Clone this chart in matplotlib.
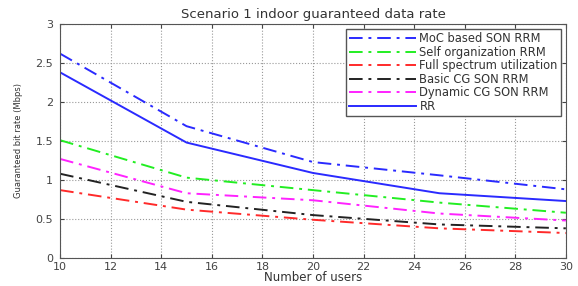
import numpy as np
import matplotlib
matplotlib.use("Agg")
import matplotlib.pyplot as plt

plt.rcParams['font.family'] = ['DejaVu Sans']

# number of users
users = [10, 15, 20, 25, 30]

# guaranteed bit rate (Mbps) per scheme
moc_son = [2.62, 1.69, 1.23, 1.06, 0.88]
self_org = [1.51, 1.03, 0.87, 0.71, 0.58]
full_spec = [0.87, 0.62, 0.49, 0.38, 0.32]
basic_cg = [1.08, 0.72, 0.55, 0.43, 0.38]
dyn_cg = [1.27, 0.83, 0.74, 0.57, 0.48]
rr = [2.38, 1.48, 1.09, 0.83, 0.73]

labels = ["MoC based SON RRM", "Self organization RRM", "Full spectrum utilization",
          "Basic CG SON RRM", "Dynamic CG SON RRM", "RR"]

fig = plt.figure(figsize=(5.78, 2.86), dpi=100)
ax = fig.add_axes([0.104, 0.098, 0.875, 0.818])

dd = (0, (7, 3, 1.5, 3))
ax.plot(users, moc_son, color='#2a2aff', ls=dd, lw=1.4, label=labels[0])
ax.plot(users, self_org, color='#22ee22', ls=dd, lw=1.4, label=labels[1])
ax.plot(users, full_spec, color='#ff2a2a', ls=dd, lw=1.4, label=labels[2])
ax.plot(users, basic_cg, color='#222222', ls=dd, lw=1.4, label=labels[3])
ax.plot(users, dyn_cg, color='#ff22ff', ls=dd, lw=1.4, label=labels[4])
ax.plot(users, rr, color='#2a2aff', ls='-', lw=1.4, label=labels[5])

ax.set_xlim(10, 30)
ax.set_ylim(0, 3)
ax.set_xticks(np.arange(10, 31, 2))
ax.set_yticks([0, 0.5, 1, 1.5, 2, 2.5, 3])
ax.set_yticklabels(['0', '0.5', '1', '1.5', '2', '2.5', '3'])
ax.tick_params(direction='in', labelsize=8, colors='#444444', length=3, top=True, right=True)
ax.tick_params(axis='y', pad=5)
ax.tick_params(axis='x', pad=3)
ax.grid(True, ls=':', color='#999999', lw=0.8)
for s in ax.spines.values():
    s.set_color('#555555')

ax.set_title("Scenario 1 indoor guaranteed data rate", fontsize=9.5, color='#333333', pad=4)
ax.set_xlabel("Number of users", fontsize=8.5, color='#333333', labelpad=-1)
ax.set_ylabel("Guaranteed bit rate (Mbps)", fontsize=6, color='#333333', labelpad=9)

leg = ax.legend(loc='upper right', fontsize=8.3, fancybox=False, framealpha=1,
                edgecolor='#555555', handlelength=5.8, labelspacing=0.05,
                borderaxespad=0.4, handletextpad=0.3, borderpad=0.3)
leg.get_frame().set_linewidth(1.0)
for t in leg.get_texts():
    t.set_color('#333333')

plt.savefig("out.png", dpi=100)
